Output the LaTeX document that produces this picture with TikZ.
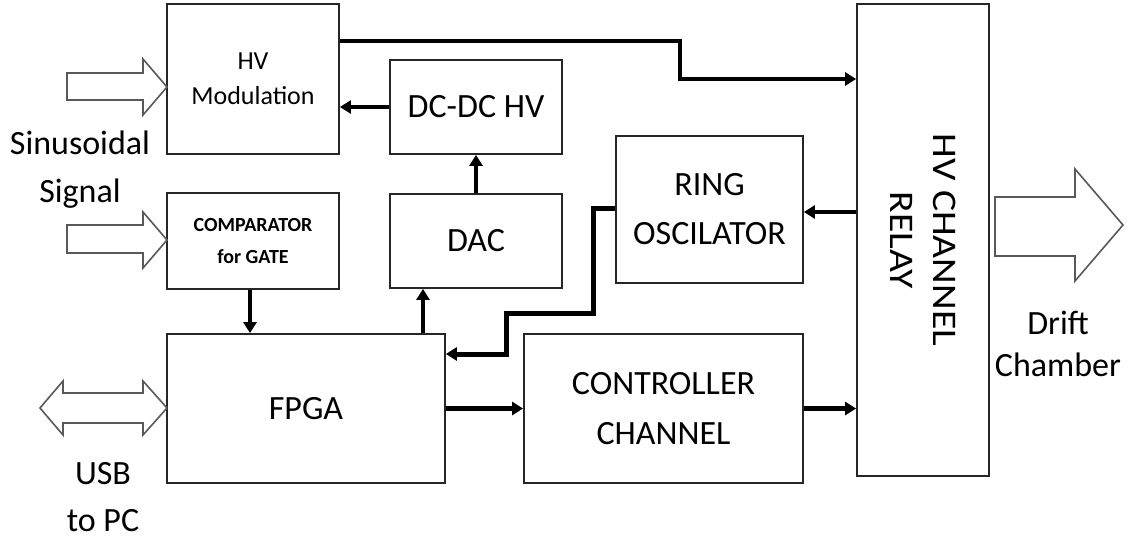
\documentclass[tikz,border=0pt]{standalone}
\usepackage{fontspec}
\setmainfont{Carlito}
\newfontfamily\widefont[FakeStretch=1.15]{Carlito}
\usetikzlibrary{arrows.meta}
\usetikzlibrary{positioning}

\begin{document}
\begin{tikzpicture}[x=1pt,y=-1pt,
  box/.style={draw=black!85,line width=1.8pt,align=center,inner sep=0pt},
  wire/.style={line width=4.2pt,-{Triangle[length=11pt,width=13pt]}},
  fatarrow/.style={draw=black!65,line width=1.6pt,fill=white,line join=miter},
  big/.style={font=\fontsize{34}{48}\selectfont}]
  \useasboundingbox (0,0) rectangle (1128,541);

  % Bloecke
  \node[box,minimum width=172,minimum height=150,font=\fontsize{26}{35}\selectfont] (hvmod) at (253,79) {HV\\Modulation};
  \node[box,minimum width=172,minimum height=96,font=\bfseries\fontsize{20}{32}\selectfont] (comp) at (253,241) {COMPARATOR\\for GATE};
  \node[box,big,minimum width=172,minimum height=94] (dcdc) at (476,107) {DC-DC HV};
  \node[box,big,minimum width=172,minimum height=94] (dac) at (476,241) {DAC};
  \node[box,font=\fontsize{34}{49}\selectfont,minimum width=187,minimum height=147] (ring) at (709.5,209.5) {RING\\OSCILATOR};
  \node[box,big,minimum width=278,minimum height=149] (fpga) at (306,408.5) {FPGA};
  \node[box,font=\fontsize{34}{50}\selectfont,minimum width=279,minimum height=149] (ctrl) at (663.5,408.5) {CONTROLLER\\CHANNEL};
  \node[box,minimum width=132,minimum height=472] (relay) at (923,240) {};
  \node[rotate=-90,align=center,font=\widefont\fontsize{34.5}{43}\selectfont] (relaytxt) at (relay.center) {HV CHANNEL\\RELAY};

  % Verbindungen
  \draw[wire] (hvmod.east |- 0,41) -- (680,41) |- (relay.west |- 0,79);
  \draw[wire] (dcdc.west) -- (hvmod.east |- dcdc.west);
  \draw[wire] (dac.north) -- (dcdc.south);
  \draw[wire] (comp.south -| 250,0) -- (fpga.north -| 250,0);
  \draw[wire] (fpga.north -| 423,0) -- (dac.south -| 423,0);
  \draw[wire] (relay.west |- 0,212) -- (ring.east |- 0,212);
  \draw[wire,line width=5pt] (ring.west |- 0,208) -- (593,208) -- (593,313) -- (506,313) -- (506,354) -- (fpga.east |- 0,354);
  \draw[wire] (fpga.east) -- (ctrl.west);
  \draw[wire] (ctrl.east) -- (relay.west |- ctrl.east);

  % Blockpfeile
  \draw[fatarrow] (67,73) -- (143,73) -- (143,59) -- (167,87) -- (143,115) -- (143,100) -- (67,100) -- cycle;
  \draw[fatarrow] (67,225) -- (143,225) -- (143,212) -- (167,240) -- (143,268) -- (143,253) -- (67,253) -- cycle;
  \draw[fatarrow] (40,408) -- (63,381) -- (63,393) -- (143,393) -- (143,381) -- (167,408) -- (143,435) -- (143,423) -- (63,423) -- (63,435) -- cycle;
  \draw[fatarrow] (995,197) -- (1075,197) -- (1075,169) -- (1123,225) -- (1075,281) -- (1075,256) -- (995,256) -- cycle;

  % Beschriftungen
  \node[big,align=center] (sinus) at (80,170) {Sinusoidal\\Signal};
  \node[font=\fontsize{34}{47}\selectfont,align=center] (usb) at (103,497) {USB\\to PC};
  \node[font=\fontsize{34}{42}\selectfont,align=center] (drift) at (1058,344) {Drift\\Chamber};
\end{tikzpicture}
\end{document}
